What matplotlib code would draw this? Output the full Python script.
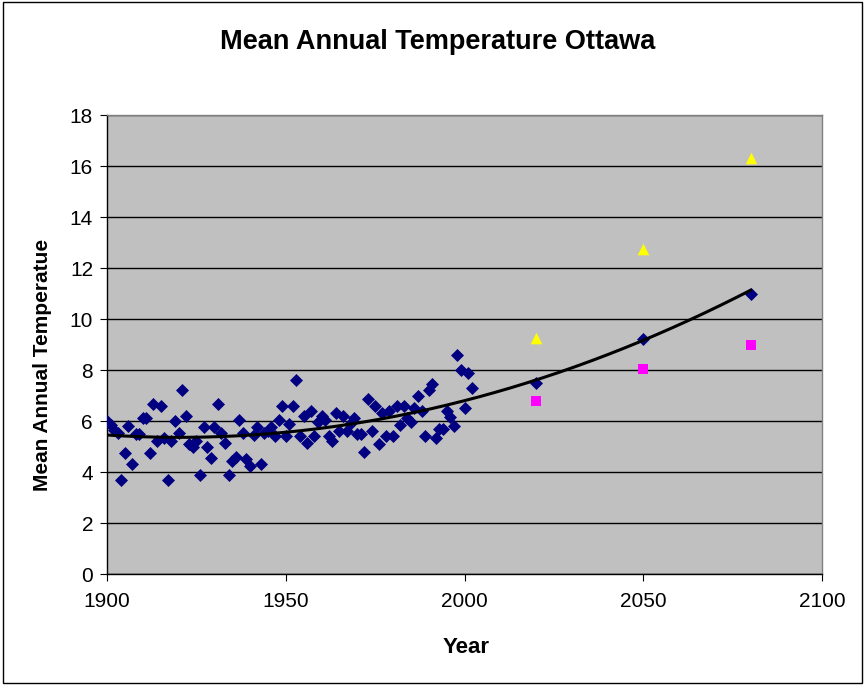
import matplotlib
matplotlib.use("Agg")
import matplotlib.pyplot as plt
from matplotlib.patches import Rectangle
import numpy as np

plt.rcParams['font.family'] = ['Liberation Sans', 'DejaVu Sans']

# observed annual means, 1900-2002
obs_years = list(range(1900, 2003))
obs_temps = [6.0, 5.85, 5.65, 5.55, 3.7, 4.75, 5.8, 4.3, 5.5, 5.5,
             6.1, 6.1, 4.75, 6.65, 5.2, 6.6, 5.35, 3.7, 5.2, 6.0,
             5.55, 7.2, 6.2, 5.1, 5.0, 5.2, 3.9, 5.75, 5.0, 4.55,
             5.75, 6.65, 5.55, 5.15, 3.9, 4.45, 4.6, 6.05, 5.55, 4.5,
             4.25, 5.45, 5.75, 4.3, 5.55, 5.6, 5.75, 5.4, 6.05, 6.6,
             5.4, 5.9, 6.6, 7.6, 5.4, 6.2, 5.15, 6.4, 5.4, 5.95,
             6.2, 6.05, 5.4, 5.2, 6.3, 5.6, 6.2, 5.6, 5.9, 6.1,
             5.5, 5.5, 4.8, 6.85, 5.6, 6.6, 5.1, 6.3, 5.4, 6.4,
             5.4, 6.6, 5.85, 6.6, 6.1, 5.95, 6.5, 7.0, 6.4, 5.4,
             7.2, 7.45, 5.35, 5.7, 5.7, 6.4, 6.15, 5.8, 8.6, 8.0,
             6.5, 7.9, 7.3]

# projections
proj_years = [2020, 2050, 2080]
proj_mid = [7.5, 9.2, 11.0]
proj_high = [9.25, 12.75, 16.3]
proj_low = [6.8, 8.05, 9.0]

fig = plt.figure(figsize=(8.65, 6.85), dpi=100)
ax = fig.add_axes([0.1237, 0.162, 0.8266, 0.670])
ax.set_facecolor('#C0C0C0')

all_years = np.array(obs_years + proj_years, dtype=float)
all_temps = np.array(obs_temps + proj_mid)

ax.scatter(all_years, all_temps, marker='D', s=44, color='#000080', lw=0, zorder=3)
ax.scatter(proj_years, proj_high, marker='^', s=70, color='#FFFF00', lw=0, zorder=3)
ax.scatter(proj_years, proj_low, marker='s', s=50, color='#FF00FF', lw=0, zorder=3)

# polynomial trend line like the spreadsheet one
coef = np.polyfit(all_years - 1900, all_temps, 2)
tx = np.linspace(1900, 2080, 200)
ax.plot(tx, np.polyval(coef, tx - 1900), color='black', lw=2.2, zorder=4)

ax.set_xlim(1900, 2100)
ax.set_ylim(0, 18)
ax.set_xticks([1900, 1950, 2000, 2050, 2100])
ax.set_yticks(range(0, 19, 2))
ax.yaxis.grid(True, color='black', lw=1)
ax.set_axisbelow(True)
ax.tick_params(direction='out', length=5, labelsize=15, colors='black')
ax.tick_params(axis='x', pad=8)
ax.tick_params(axis='y', pad=5)
for s in ax.spines.values():
    s.set_color('#808080')
    s.set_linewidth(1)
ax.spines['left'].set_color('black')
ax.spines['bottom'].set_color('black')

fig.suptitle('Mean Annual Temperature Ottawa', x=0.506, y=0.939, va='center',
             fontsize=19.5, fontweight='bold')
ax.set_xlabel('Year', fontsize=16, fontweight='bold')
ax.set_ylabel('Mean Annual Temperatue', fontsize=15, fontweight='bold')
ax.xaxis.set_label_coords(0.502, -0.137)
ax.yaxis.set_label_coords(-0.077, 0.455)

fig.patches.append(Rectangle((0.003, 0.003), 0.994, 0.994, transform=fig.transFigure,
                             fill=False, edgecolor='black', lw=1))

fig.savefig('out.png', dpi=100)
